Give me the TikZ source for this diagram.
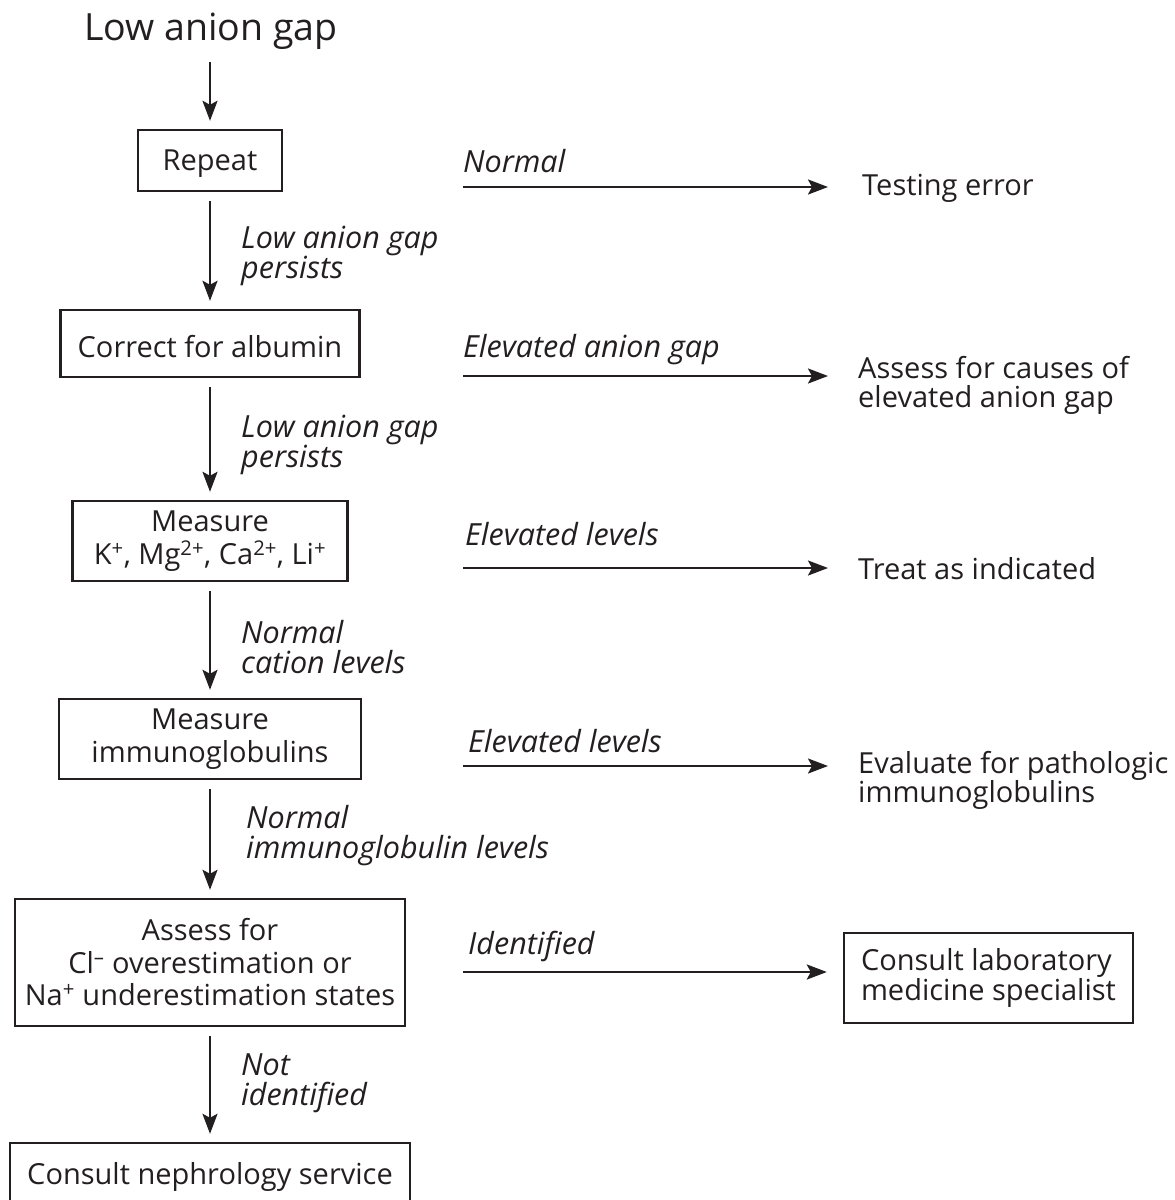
\documentclass[tikz,border=0pt]{standalone}
\usepackage{fontspec}
\setmainfont{Open Sans}
\usetikzlibrary{arrows.meta}
\definecolor{ink}{HTML}{231F20}
\newcommand{\dropline}[1]{\raisebox{0pt}[\dimexpr\height+6pt\relax]{#1}}
\begin{document}
\begin{tikzpicture}[x=1pt,y=-1pt, every node/.style={text=ink},
  box/.style={draw=ink, line width=2.4pt, inner sep=0pt, align=center, font=\fontsize{29}{32.5}\selectfont},
  plain/.style={inner sep=0pt, align=left, anchor=west, font=\fontsize{29}{29}\selectfont},
  lab/.style={inner sep=0pt, align=left, anchor=west, font=\fontsize{30.5}{30}\selectfont\itshape},
  arr/.style={draw=ink, line width=2.4pt, -{Stealth[length=20pt,width=15pt,inset=4pt]}},
  varr/.style={arr, shorten <=9pt, shorten >=8pt}]
\useasboundingbox (0,0) rectangle (1175,1200);
% title
\node[inner sep=0pt, font=\fontsize{37.5}{40}\selectfont] (title) at (211,31) {Low anion gap};
% main boxes
\node[box, minimum width=144pt, minimum height=61pt] (repeat) at (210,160.5) {\dropline{Repeat}};
\node[box, minimum width=299pt, minimum height=67pt] (albumin) at (210,343.5) {\dropline{Correct for albumin}};
\node[box, minimum width=275pt, minimum height=80pt] (measure) at (210,541) {Measure\\K\textsuperscript{+}, Mg\textsuperscript{2+}, Ca\textsuperscript{2+}, Li\textsuperscript{+}};
\node[box, minimum width=302pt, minimum height=80pt] (immuno) at (210,739) {Measure\\immunoglobulins};
\node[box, minimum width=390pt, minimum height=127pt] (assess) at (210,962.5) {Assess for\\Cl\textsuperscript{–} overestimation or\\Na\textsuperscript{+} underestimation states};
\node[box, minimum width=400pt, minimum height=62pt] (nephro) at (210,1174) {\dropline{Consult nephrology service}};
% right side outcomes
\node[plain] (testing) at (862,188) {Testing error};
\node[plain] (causes) at (858,385) {Assess for causes of\\elevated anion gap};
\node[plain] (treat) at (858,569) {Treat as indicated};
\node[plain] (evaluate) at (858,780) {Evaluate for pathologic\\immunoglobulins};
\node[box, align=left, font=\fontsize{29}{30}\selectfont, minimum width=289pt, minimum height=90pt] (labspec) at (988.5,978) {Consult laboratory\\medicine specialist};
% vertical arrows
\draw[arr, shorten <=13pt, shorten >=8pt] (title.south -| repeat.north) -- (repeat.north);
\draw[varr] (repeat.south) -- (albumin.north);
\draw[varr] (albumin.south) -- (measure.north);
\draw[varr] (measure.south) -- (immuno.north);
\draw[varr] (immuno.south) -- (assess.north);
\draw[varr] (assess.south) -- (nephro.north);
% vertical labels
\node[lab] (l1) at (241,256) {Low anion gap\\persists};
\node[lab] (l2) at (241,445) {Low anion gap\\persists};
\node[lab] (l3) at (241,647) {Normal\\cation levels};
\node[lab] (l4) at (246,836) {Normal\\immunoglobulin levels};
\node[lab] (l5) at (241,1083) {Not\\identified};
% horizontal arrows
\coordinate (h1) at (463,187);
\coordinate (h2) at (463,376);
\coordinate (h3) at (463,568);
\coordinate (h4) at (463,766);
\coordinate (h5) at (463,972);
\draw[arr, shorten >=34pt] (h1) -- (h1 -| testing.west);
\draw[arr, shorten >=30pt] (h2) -- (h2 -| causes.west);
\draw[arr, shorten >=30pt] (h3) -- (h3 -| treat.west);
\draw[arr, shorten >=30pt] (h4) -- (h4 -| evaluate.west);
\draw[arr, shorten >=16pt] (h5) -- (h5 -| labspec.west);
% horizontal labels
\node[lab] (r1) at (463,161) {Normal};
\node[lab] (r2) at (463,350) {Elevated anion gap};
\node[lab] (r3) at (465,534) {Elevated levels};
\node[lab] (r4) at (468,741) {Elevated levels};
\node[lab] (r5) at (468,946) {Identified};
\end{tikzpicture}
\end{document}
